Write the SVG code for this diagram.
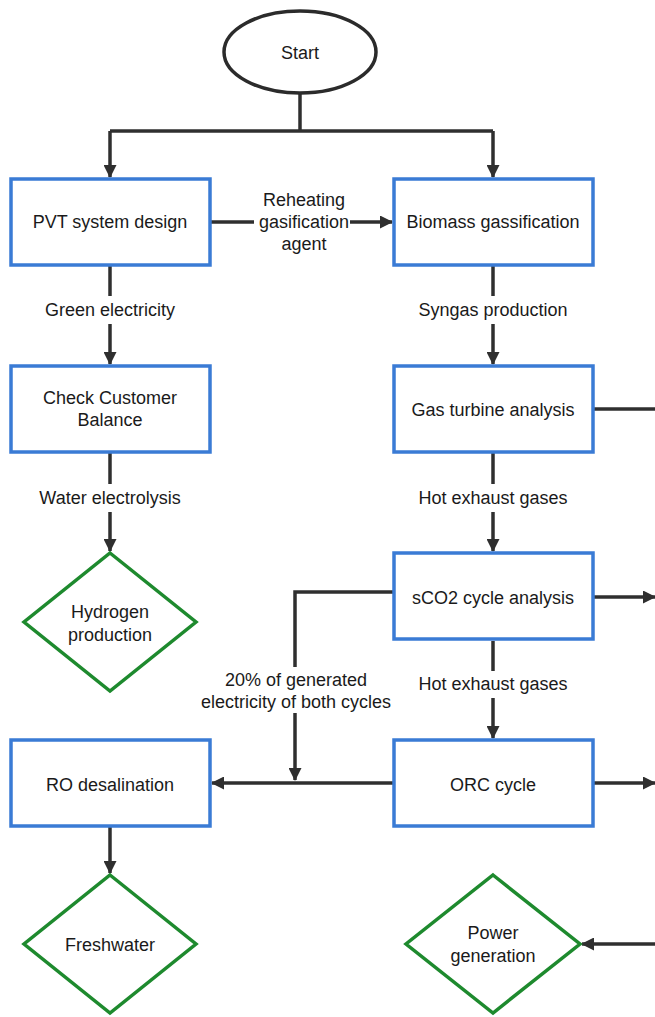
<svg xmlns="http://www.w3.org/2000/svg" width="655" height="1017" viewBox="0 0 655 1017">
<style>
.box{fill:#fff;stroke:#3a7bd5;stroke-width:3.5}
.dia{fill:#fff;stroke:#1e8a2e;stroke-width:3.5}
.term{fill:#fff;stroke:#2b2b2b;stroke-width:3.5}
.ln{fill:none;stroke:#2f2f2f;stroke-width:3.5}
.arr{marker-end:url(#ah)}
text{font-family:"Liberation Sans",Arial,sans-serif;font-size:18px;fill:#1a1a1a;text-anchor:middle;dominant-baseline:central}
</style>
<defs>
<marker id="ah" markerWidth="13" markerHeight="13" refX="12" refY="6.5" orient="auto" markerUnits="userSpaceOnUse" viewBox="0 0 13 13">
<path d="M0,0 L13,6.5 L0,13 z" fill="#2f2f2f"/>
</marker>
</defs>
<rect width="655" height="1017" fill="#fff"/>
<g id="connectors">
<path class="ln" d="M300,94 V131"/>
<path class="ln" d="M110,131 H493"/>
<path class="ln arr" d="M110,131 V177"/>
<path class="ln arr" d="M493,131 V177"/>
<path class="ln" d="M211,222 H254"/>
<path class="ln arr" d="M350,222 H392"/>
<path class="ln" d="M110,266 V296"/>
<path class="ln arr" d="M110,324 V364"/>
<path class="ln" d="M493,266 V296"/>
<path class="ln arr" d="M493,324 V364"/>
<path class="ln" d="M110,453 V484"/>
<path class="ln arr" d="M110,512 V551"/>
<path class="ln" d="M493,453 V484"/>
<path class="ln arr" d="M493,512 V551"/>
<path class="ln" d="M594,409 H655"/>
<path class="ln arr" d="M594,597 H655"/>
<path class="ln" d="M394,592 H295 V667"/>
<path class="ln arr" d="M295,713 V780"/>
<path class="ln" d="M493,641 V671"/>
<path class="ln arr" d="M493,698 V738"/>
<path class="ln arr" d="M394,783 H212"/>
<path class="ln arr" d="M594,783 H655"/>
<path class="ln arr" d="M110,827 V873"/>
<path class="ln arr" d="M655,944 H582"/>
</g>
<g id="start"><ellipse class="term" cx="300" cy="52" rx="76" ry="41"/><text x="300" y="53">Start</text></g>
<g id="pvt"><rect class="box" x="11" y="179" width="199" height="86"/><text x="110" y="222">PVT system design</text></g>
<g id="biomass"><rect class="box" x="394" y="179" width="199" height="86"/><text x="493" y="222">Biomass gassification</text></g>
<g id="check"><rect class="box" x="11" y="366" width="199" height="86"/><text x="110" y="398">Check Customer</text><text x="110" y="420">Balance</text></g>
<g id="gasturbine"><rect class="box" x="394" y="366" width="199" height="86"/><text x="493" y="410">Gas turbine analysis</text></g>
<g id="hydrogen"><path class="dia" d="M110,553 L196,622 L110,691 L24,622 Z"/><text x="110" y="612">Hydrogen</text><text x="110" y="635">production</text></g>
<g id="sco2"><rect class="box" x="394" y="553" width="199" height="86"/><text x="493" y="598">sCO2 cycle analysis</text></g>
<g id="ro"><rect class="box" x="11" y="740" width="199" height="86"/><text x="110" y="785">RO desalination</text></g>
<g id="orc"><rect class="box" x="394" y="740" width="199" height="86"/><text x="493" y="785">ORC cycle</text></g>
<g id="freshwater"><path class="dia" d="M110,875 L196,944 L110,1013 L24,944 Z"/><text x="110" y="945">Freshwater</text></g>
<g id="power"><path class="dia" d="M493,875 L580,944 L493,1013 L406,944 Z"/><text x="493" y="933">Power</text><text x="493" y="956">generation</text></g>
<g id="labels">
<text x="304" y="200">Reheating</text>
<text x="304" y="222">gasification</text>
<text x="304" y="244">agent</text>
<text x="110" y="310">Green electricity</text>
<text x="493" y="310">Syngas production</text>
<text x="110" y="498">Water electrolysis</text>
<text x="493" y="498">Hot exhaust gases</text>
<text x="296" y="680">20% of generated</text>
<text x="296" y="702">electricity of both cycles</text>
<text x="493" y="684">Hot exhaust gases</text>
</g>
</svg>
